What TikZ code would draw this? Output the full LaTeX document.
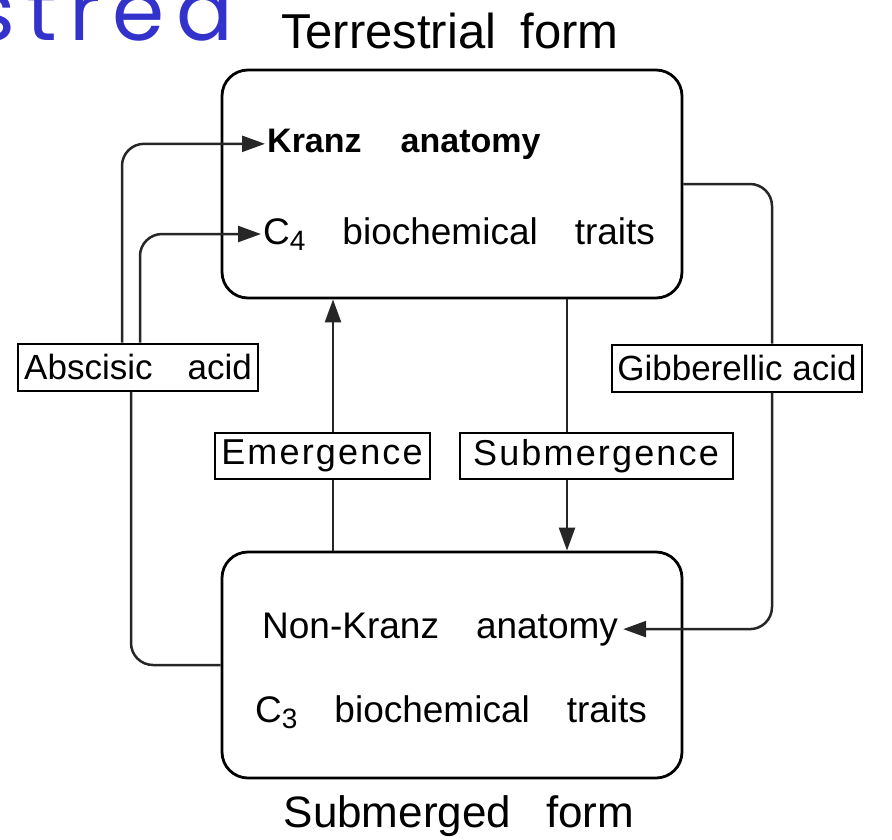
\documentclass[tikz,border=0pt]{standalone}
\usepackage{fontspec}
\setmainfont{Liberation Sans}
\newfontfamily\bluefont[LetterSpace=14]{Poppins}
\usetikzlibrary{arrows.meta,positioning}
\definecolor{titleblue}{RGB}{51,51,204}
\newcommand{\wgap}{\hspace{1em}}
\newcommand{\lowsub}[1]{\raisebox{-0.35ex}{\fontsize{28}{30}\selectfont #1}}

\begin{document}
\begin{tikzpicture}[
  x=1pt,y=-1pt,
  form/.style={draw,line width=2.8pt,rounded corners=26pt,minimum width=460pt,minimum height=228pt},
  trait/.style={inner sep=0pt,anchor=base west,font=\fontsize{37}{40}\selectfont},
  caption/.style={inner sep=0pt,anchor=base},
  tag/.style={draw,line width=2pt,fill=white,inner sep=0pt,minimum height=47pt,font=\fontsize{35}{40}\selectfont},
  conn/.style={line width=2.5pt,draw=black!85,rounded corners=22pt},
  arr/.style={conn,-{Triangle[length=23pt,width=16pt]}}
]
\useasboundingbox (0,0) rectangle (892,839);

% cut-off heading at the top left
\node[inner sep=0pt,anchor=base east,text=titleblue,font=\bluefont\fontsize{84}{90}\selectfont] (strea) at (233,40) {strea};

% the two leaf forms
\node[form] (terr) at (452,184) {};
\node[form,minimum height=226pt] (subm) at (452,665) {};
\node[caption,font=\fontsize{49}{54}\selectfont] (terrlab) at (450,48) {Terrestrial\hspace{0.5em}form};
\node[caption,font=\fontsize{44}{50}\selectfont] (submlab) at (459,827) {Submerged\hspace{0.8em}form};

\node[trait,font=\fontsize{34}{40}\selectfont\bfseries] (kranz) at (267,152) {Kranz\hspace{1.15em}anatomy};
\node[trait] (cfour) at (263,244) {C\lowsub{4}\wgap biochemical\wgap traits};
\node[trait] (nonkranz) at (262,638) {Non-Kranz\wgap anatomy};
\node[trait] (cthree) at (255,722) {C\lowsub{3}\wgap biochemical\wgap traits};

% treatments
\node[tag,minimum width=240pt] (absc) at (138,367) {Abscisic\wgap acid};
\node[tag,minimum width=250pt] (gibb) at (737,368) {Gibberellic acid};
\node[tag,minimum width=215pt,minimum height=46pt,font=\fontsize{36}{40}\selectfont\addfontfeature{LetterSpace=6}] (emerg) at (322,456) {Emergence};
\node[tag,minimum width=273pt,minimum height=46pt,font=\fontsize{36}{40}\selectfont\addfontfeature{LetterSpace=6}] (submerg) at (596,456) {Submergence};

\coordinate (etop) at ([xshift=11pt]emerg.north);
\coordinate (ebot) at ([xshift=11pt]emerg.south);
\coordinate (stop) at ([xshift=-29pt]submerg.north);
\coordinate (sbot) at ([xshift=-29pt]submerg.south);
\coordinate (abot) at ([xshift=-7pt]absc.south);
\coordinate (aout) at ([xshift=-16pt]absc.north);
\coordinate (ain) at ([xshift=2pt]absc.north);
\coordinate (gtop) at ([xshift=35pt]gibb.north);
\coordinate (gbot) at ([xshift=35pt]gibb.south);

\draw[conn] (ebot) -- (ebot |- subm.north);
\draw[arr] (etop) -- (etop |- terr.south);
\draw[conn] (stop) -- (stop |- terr.south);
\draw[arr] (sbot) -- (sbot |- subm.north);

\draw[conn] (subm.west) -| (abot);
\draw[arr] (aout) |- ([xshift=-2pt]kranz.west);
\draw[arr] (ain) |- ([xshift=-2pt]cfour.west);

\draw[conn] (terr.east) -| (gtop);
\draw[arr] (gbot) |- ([xshift=5pt]nonkranz.east);
\end{tikzpicture}
\end{document}
